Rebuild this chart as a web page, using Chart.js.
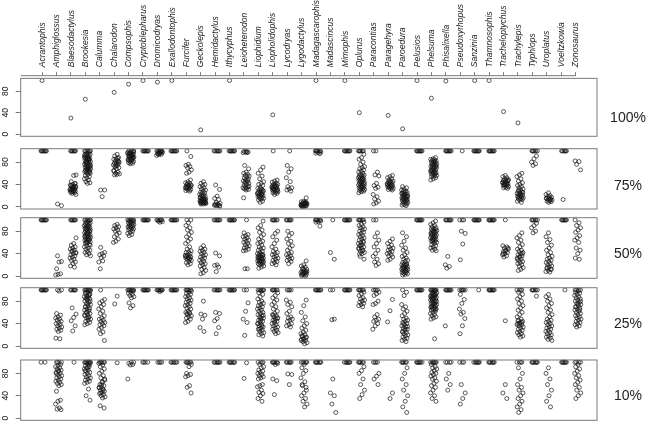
<!DOCTYPE html>
<html><head><meta charset="utf-8">
<script src="https://cdn.jsdelivr.net/npm/chart.js@4/dist/chart.umd.min.js"></script>
<style>
html,body{margin:0;padding:0;background:#fff;}
#wrap{position:relative;width:648px;height:425px;overflow:hidden;background:#fff;}
canvas{position:absolute;left:0;}
.lab{position:absolute;left:598px;width:60px;text-align:center;font-family:"Liberation Sans",Arial,sans-serif;font-size:14px;line-height:16px;color:#222;}
</style></head><body>
<div id="wrap">
<canvas id="c0" width="648" height="141" style="top:0px"></canvas>
<canvas id="c1" width="648" height="70" style="top:144px"></canvas>
<canvas id="c2" width="648" height="70" style="top:213px"></canvas>
<canvas id="c3" width="648" height="70" style="top:283px"></canvas>
<canvas id="c4" width="648" height="70" style="top:355px"></canvas>
<div class="lab" id="l0"></div><div class="lab" id="l1"></div><div class="lab" id="l2"></div><div class="lab" id="l3"></div><div class="lab" id="l4"></div>
</div>
<script>
const categories = ["Acrantophis","Amphiglossus","Blaesodactylus","Brookesia","Calumma","Chalarodon","Compsophis","Cryptoblepharus","Dromicodryas","Exallodontophis","Furcifer","Geckolepis","Hemidactylus","Ithycyphus","Leioheterodon","Liophidium","Liopholidophis","Lycodryas","Lygodactylus","Madagascarophis","Madascincus","Mimophis","Oplurus","Paracontias","Paragehyra","Paroedura","Pelusios","Phelsuma","Phisalixella","Pseudoxyrhopus","Sanzinia","Thamnosophis","Tracheloptychus","Trachylepis","Typhlops","Uroplatus","Voeltzkowia","Zonosaurus"];
const panelLabels = ["100%","75%","50%","25%","10%"];
const yTicks = [0,20,40,60,80,100];
const yTickLabels = [0,40,80];

const pct100 = [[100],[],[30],[65],[],[78],[93],[100],[97],[100],[],[8],[],[100],[],[],[36],[],[],[100],[],[100],[40],[],[35],[10],[100],[67],[99],[],[100],[100],[42],[21],[],[],[],[]];

const pct75 = [
[100,100,100,100,100,100,100,100],
[5,2],
[100,100,100,100,100,100,100,57,56,45,42,40,39,37,36,35,34,33,32,31,30,30,29,28,27,26,25,24,22,35,38,41,33,31,29,27,36,34],
[100,100,100,100,100,100,97,95,94,93,92,91,90,89,88,87,86,85,84,83,82,81,80,79,78,77,76,75,74,73,72,71,70,69,68,67,66,65,64,63,62,61,60,58,56,54,52,50,48,45,43,42,88,85,80,75,70,65,62,90,93,84,78,72,68],
[30,30,18],
[94,91,88,86,85,83,82,80,79,78,77,76,75,74,72,70,68,64,62,60,59,58,57,81,73,65,87],
[100,100,100,99,98,97,96,95,94,93,92,91,90,89,88,87,86,85,84,83,82,81,80,79,78,77,96,93,90,88,86,84,91,95,98,92],
[100,100,100,100,100,100,100,100],
[100,100,100,100,100,100,98,97,96,95,94,93,92,97,95,99,96],
[100,100,100,100,100,100,100,100],
[100,90,76,74,72,70,66,62,60,48,45,43,42,40,39,38,37,36,35,34,33,32,31,30,29,28,41,38,36,34],
[45,42,40,38,36,34,32,30,28,26,25,24,22,21,20,19,18,17,16,15,14,13,12,11,10,10,9,9,8,8,7,7,6,6,5,5,12,14,16,11,9,7,13,10,8],
[100,100,100,100,100,100,100,39,31,19,15,13,8,6,4,3,2,2,3,4,5,1],
[100,100,100,100,100,100,100,100],
[99,99,98,98,97,97,74,68,62,60,58,56,55,54,52,50,48,46,45,44,42,40,38,36,35,34,33,32,31,30,16,47,43,37],
[71,66,60,55,50,45,42,40,38,35,33,31,30,28,27,26,25,24,23,22,21,20,19,18,17,16,15,14,12,10,8,25,22,20,29,32],
[100,48,46,44,42,41,40,39,38,37,36,35,34,33,32,31,30,29,28,27,26,25,24,22,36,34,32,30,38,33],
[100,74,68,62,52,45,36,34,32,30,28],
[16,10,9,8,7,6,6,5,5,4,4,3,3,2,2,1,1,0,5,7,3,8,4,2,6],
[100,100,100,100,100,100,98,97,96,95],
[],
[100,100,100,100,100,100,100,100],
[100,100,100,100,100,100,94,88,85,80,76,72,70,68,66,64,62,60,58,57,56,55,54,53,52,51,50,49,48,47,46,45,44,43,42,41,40,39,38,37,36,35,34,33,32,31,30,29,28,27,25,50,45,40,35],
[100,100,62,57,55,42,38,35,33,22,18,14,10,7,5],
[56,54,52,50,48,46,45,44,43,42,41,40,39,38,37,36,35,34,33,32,31,30,45,40,38,36],
[36,34,32,30,28,27,26,25,24,23,22,21,20,19,18,17,16,15,14,13,12,11,10,9,8,7,6,5,4,3,2,20,18,16,14,12,22,24],
[100,100,100,100,100,100,100,100],
[88,86,85,84,83,82,81,80,79,78,77,76,75,74,73,72,71,70,69,68,67,66,65,64,63,62,61,60,59,58,57,56,55,54,52,50,48,80,76,72,68,64,60],
[100,100,100,100,100,100,100,100],
[100],
[100,100,100,100,100,100,100,100],
[100,100,100,100,100,100,100,100],
[56,54,52,50,49,48,47,46,45,44,43,42,41,40,39,38,37,36,35,34,33,45,43,41,39,47],
[60,57,54,50,46,43,40,38,36,34,32,30,28,26,25,24,23,22,21,20,19,18,17,16,15,14,13,12,10,8,30,26,22,18],
[100,100,100,100,100,100,91,86,80,77,74],
[25,22,20,18,17,16,15,14,13,12,11,10,9,8,15,13],
[100,100,100,100,100,100,13],
[82,81,76,66]
];

const pct50 = [
[100,100,100,100,100,100,100,100],
[36,26,25,13,4,3,2],
[100,100,100,100,100,100,100,68,58,55,52,50,48,46,44,42,40,38,36,34,32,30,28,25,22,18,16,45,41],
[100,100,100,100,100,100,98,96,95,94,93,92,91,90,89,88,87,86,85,84,83,82,81,80,79,78,77,76,75,74,73,72,71,70,69,68,67,66,65,64,63,62,61,60,58,56,54,52,50,48,46,44,42,40,38,36,90,85,80,75,70,65,60,55],
[51,42,40,38,36,33,25,27,13],
[92,90,88,86,84,82,80,77,74,70,66,62,60],
[100,100,100,100,100,100,99,98,97,96,95,94,93,92,91,90,89,88,87,86,85,84,83,82,80,78,76,74,72],
[100,100,100,100,100,100,100,100],
[100,100,100,100,100,100,98,97,96],
[100,100,100,100,100,100,100,100],
[100,100,95,90,86,82,78,74,70,66,62,58,52,48,45,43,42,40,38,37,36,35,34,33,32,31,30,28,26,24,22,20,35,30],
[54,50,48,46,44,42,40,38,36,34,32,30,28,26,24,22,20,18,15,12,10,6,4],
[100,100,100,100,100,100,100,41,36,20,19,16,8],
[100,100,100,100,100,100,100,100],
[100,77,74,72,70,68,66,64,62,60,58,56,54,52,50,48,46,45,13,13],
[98,90,86,82,78,74,70,66,62,60,58,55,52,50,48,46,44,42,40,39,38,37,36,35,34,33,32,31,30,29,28,27,26,25,24,23,22,21,20,18,16,14,38,35,32,30,28,26],
[100,100,100,100,100,100,80,76,70,64,58,52,48,44,42,40,38,36,34,32,30,28,26,24,22,20],
[100,100,100,100,100,100,80,76,72,66,62,58,54,50,46,42,40,38,36,34,32,30,28,26,22],
[27,20,18,16,14,12,10,9,8,7,6,5,4,3,2,1,0,12,8,5,3,6],
[100,100,100,100,100,100,98,97,96,89],
[100,42,30],
[100,100,100,100,100,100,100,100],
[100,100,100,100,100,100,96,92,90,88,86,84,82,80,78,76,74,72,70,68,66,64,62,60,58,56,54,52,50,48,46,44,42,40,39,60,55,50,45,35,30],
[100,100,77,70,64,58,52,46,40,35,30,25,22,19],
[66,62,58,55,52,50,48,46,44,42,40,38,36,34,30,28],
[77,70,62,55,50,46,42,38,35,32,30,28,26,24,22,21,20,19,18,17,16,15,14,13,12,11,10,9,8,7,6,5,4,3,2,20,16,12,10],
[100,100,100,100,100,100,100,100],
[98,95,92,90,88,86,85,84,83,82,81,80,79,78,77,76,75,74,73,72,71,70,69,68,67,66,65,64,63,62,61,60,58,56,54,52,50,48,46,45,80,75,70,65],
[100,100,100,100,100,100,100,35,20,17,14],
[100,100,100,80,76,57,29],
[100,100,100,100,100,100,100,100],
[100,100,100,100,100,100,100,100],
[100,54,52,50,48,46,44,42,40,38,36,34,50,45,40],
[77,72,68,64,60,56,52,48,46,44,42,40,38,36,34,32,30,28,26,24,22,20,18,15,12,10,40,35,30],
[100,100,100,100,100,100,94,90,86,80,77],
[77,70,65,60,55,50,46,42,38,35,32,30,28,26,24,22,20,18,16,14,12,10,8,7,15,12],
[100,100,100,100,100,100,100],
[100,95,90,86,82,78,72,68,64,60,50,46,40,32,30]
];

const pct25 = [
[100,100,100,100,100,100,100,100],
[100,100,98,58,55,52,50,48,46,44,42,40,38,36,34,32,30,28,26,14,13],
[100,100,100,100,100,100,68,57,51,45,36,27],
[100,100,100,100,100,100,100,100,98,96,94,92,90,88,86,85,84,82,80,78,76,74,72,70,68,66,64,62,60,58,56,54,52,50,48,46,44,42,40,38,90,85,80,75,70,65,60,55,50,95,92,88],
[100,83,80,77,74,70,66,62,58,54,50,48,46,44,42,40,38,36,33,30,25,22,10],
[89,75],
[100,100,100,100,100,100,100,100,98,96,94,92,90,88,86,77,72,68],
[100,100,100,100,100,100,100,100],
[100,100,100,100,100,100,100,100,97],
[100,100,100,100,100,100,100,100],
[100,100,100,100,100,100,98,96,94,92,90,88,86,84,82,80,78,76,74,72,70,68,66,62,60,58,56,54,52,50,48,44,42,60,58],
[80,57,55,48,33,26],
[100,100,100,100,100,100,100,60,58,49,45,33,22],
[100,100,100,100,100,100,100,100],
[100,100,77,62,48,42,19],
[100,100,100,100,100,100,98,95,92,88,84,80,78,76,74,72,70,68,66,64,62,60,58,56,54,52,50,48,46,44,42,40,38,36,34,32,30,28,26,24,22,20,18,45,40,35,30,55,50],
[100,100,100,100,100,100,95,90,86,82,78,74,70,66,62,58,56,54,52,50,48,46,44,42,40,38,36,34,32,30,28,26,24,22,55,50,45],
[100,100,100,100,82,78,74,70,62,58,52,50,48,46,44,40,38,36,34],
[82,72,60,52,45,40,36,32,28,25,22,20,18,16,14,12,10,8,6,4,18,15,12,10],
[100,100,100,100,100,100,100,100],
[100,100,48,47],
[100,100,100,100,100,100,100,100],
[100,100,100,100,100,100,96,93,90,86,84,82,80,78,76,74,72,70],
[100,100,100,100,96,93,90,80,76,74,56,52,48,46,44,40,36,30],
[83,63,43],
[100,96,90,74,70,66,62,58,54,50,48,46,44,42,40,38,36,34,32,30,28,26,24,22,20,18,16,14,12,10,8,40,35,30,25],
[100,100,100,100,100,100,100,100],
[100,100,100,100,100,100,100,100,98,96,95,94,93,92,91,90,89,88,87,86,85,84,83,82,81,80,79,78,77,76,75,74,73,72,71,70,69,68,67,66,65,64,62,60,58,56,54,52,50,48,90,85,80,75,70,65,92,88,13],
[100,100,100,100,100,100,100,100,36],
[100,100,100,100,100,100,92,83,76,66,60,57,49,36,22],
[100],
[100,100,100,100,100,100,100,100],
[45],
[100,100,100,100,96,92,88,84,80,76,72,68,64,60,56,52,48,46,44,42,40,38,36,34,32,30,28,26,24,22,20,18,16,45,42,40,38],
[100,100,100,100,100,100,89],
[92,88,84,80,76,72,68,64,60,56,52,48,46,44,42,40,38,36,34,32,30,28,26,24,22,20,18,16,14,12,10],
[100],
[100,100,100,100,98,96,94,92,90,88,86,84,82,80,78,76,74,72,70,68,66,64,62,60,58,56,54,52,50,48,46,44,42,40,38,36,34,80,75,70,65]
];

const pct10 = [
[100,100],
[100,100,100,100,96,94,92,90,88,86,84,82,80,78,76,74,72,70,68,66,64,62,60,58,48,32,30,25,18,16,15,85,80],
[100],
[100,100,100,100,100,100,100,100,98,96,94,92,90,88,86,84,82,80,78,76,74,72,70,68,66,64,62,52,40,32,90,85,95],
[100,100,100,100,100,100,98,95,92,88,84,80,76,72,68,64,60,58,56,54,52,50,48,46,44,42,40,38,36,22,18,60,55,50,45,70,65],
[99],
[100,100,98,96,95,70],
[100,100,100,100],
[100,100,100,100],
[100,100,100,100,100,100],
[100,100,100,100,100,100,96,92,80,78,76,74,58,55,45],
[],
[100,100,100,100,100,100,100],
[100,100,100,100,100,100,100],
[99,71],
[100,100,100,100,96,92,90,86,84,82,80,78,76,74,72,70,60,58,56,50,46,44,40,35,30],
[100,100,100,100,100,100,98,96,70,67,42],
[100,100,100,100,100,100,79,78,60],
[100,100,100,100,100,100,96,90,85,80,72,65,58,50,45,40,35,30,25,20,60,55],
[100,100,100,100,100,100,100],
[70,45,40,25,10],
[100,100,100,100,100,100,100],
[100,100,100,100,100,100,92,85,80,70,60,50,42,35],
[100,100,100,100,80,75,70,60],
[45,35],
[100,100,100,100,100,100,90,80,70,60,50,40,30,20,10],
[100,100,100,100,100,100,100],
[100,100,100,100,100,100,100,96,92,90,88,85,82,80,78,75,72,70,66,62,58,55,50,45,40,35,30],
[100,100,100,100,80,70,60,50],
[100,100,100,60,45,35,25],
[100,100,100,100,100,100,100],
[100,100,100,100,100,100,100],
[60,45,35],
[100,100,100,100,90,80,70,60,55,50,45,40,35,30,25,20,15,10],
[100,100,100,100,100,100,100],
[90,80,70,60,50,40,30,20],
[100,100,100,100,100,100,100],
[100,100,100,100,96,92,88,84,80,76,72,68,64,60,55,50,45,40,35]
];

const panelData = [pct100, pct75, pct50, pct25, pct10];

// layout (pixels) — kept separate from data
const panelCfg = [
  {canvas:'c0', top:0,   h:141, padTop:0,   padBottom:1.5, ymax:109, topAxis:true,  labelY:109},
  {canvas:'c1', top:144, h:70,  padTop:4.5, padBottom:5,   ymax:104, topAxis:false, labelY:177},
  {canvas:'c2', top:213, h:70,  padTop:4.5, padBottom:4,   ymax:104, topAxis:false, labelY:245},
  {canvas:'c3', top:283, h:70,  padTop:4.5, padBottom:4,   ymax:104, topAxis:false, labelY:315},
  {canvas:'c4', top:355, h:70,  padTop:5,   padBottom:4,   ymax:104, topAxis:false, labelY:387}
];

function jitterOffset(k, cat) {
  const u = ((k + cat * 7) * 0.6180339887) % 1;
  return 0.15 + 0.44 * (u - 0.5);
}

const boxPlugin = {
  id: 'boxPlugin',
  afterDatasetsDraw(chart, args, opts) {
    const {ctx, chartArea, scales} = chart;
    const yT = scales.y.getPixelForValue(104), yB = scales.y.getPixelForValue(-4);
    ctx.save();
    ctx.strokeStyle = '#7a7a7a';
    ctx.lineWidth = 1;
    ctx.strokeRect(chartArea.left, yT, chartArea.right - chartArea.left, yB - yT);
    if (opts.topAxis) {
      ctx.beginPath();
      ctx.moveTo(chartArea.left, chartArea.top);
      ctx.lineTo(scales.x.getPixelForValue(categories.length), chartArea.top);
      ctx.stroke();
    }
    ctx.restore();
  }
};

panelCfg.forEach((cfg, p) => {
  const pts = [];
  panelData[p].forEach((vals, ci) => {
    vals.forEach((v, k) => {
      const dx = p === 0 ? 0 : jitterOffset(k, ci);
      pts.push({x: ci + 1 + dx, y: v});
    });
  });
  const lab = document.getElementById('l' + p);
  lab.textContent = panelLabels[p];
  lab.style.top = (cfg.labelY) + 'px';

  new Chart(document.getElementById(cfg.canvas), {
    type: 'scatter',
    data: { datasets: [{
      data: pts, showLine: false, clip: false,
      pointStyle: 'circle', pointRadius: 2, pointBorderWidth: 0.7,
      pointBorderColor: '#151515', pointBackgroundColor: 'rgba(0,0,0,0)'
    }]},
    options: {
      responsive: false, animation: false, events: [],
      layout: { padding: { top: cfg.padTop, bottom: cfg.padBottom, left: 0, right: 51 } },
      plugins: { legend: {display: false}, tooltip: {enabled: false}, boxPlugin: {topAxis: cfg.topAxis} },
      scales: {
        x: {
          type: 'linear', position: 'top', min: -0.48, max: 39.48,
          display: cfg.topAxis,
          afterFit: s => { if (cfg.topAxis) { s.height = 75.7; } s.paddingLeft = 0; s.paddingRight = 0; },
          afterBuildTicks: s => { s.ticks = categories.map((c, i) => ({value: i + 1})); },
          border: {display: false},
          grid: {drawOnChartArea: false, drawTicks: true, tickLength: 3.5, color: '#7a7a7a'},
          ticks: {
            autoSkip: false, minRotation: 90, maxRotation: 90, padding: 5, labelOffset: 10.5,
            color: '#1a1a1a',
            font: {family: '"Liberation Sans", Arial, sans-serif', style: 'italic', size: 8.5},
            callback: v => categories[v - 1]
          }
        },
        y: {
          type: 'linear', min: -4, max: cfg.ymax,
          afterFit: s => { s.width = 20.7; s.paddingTop = 0; s.paddingBottom = 0; },
          afterBuildTicks: s => { s.ticks = yTicks.map(v => ({value: v})); },
          border: {display: false},
          grid: {drawOnChartArea: false, drawTicks: true, tickLength: 5, color: '#7a7a7a'},
          ticks: {
            minRotation: 90, maxRotation: 90, crossAlign: 'center', padding: 5,
            color: '#1a1a1a',
            font: {family: '"Liberation Sans", Arial, sans-serif', size: 8.5},
            callback: v => yTickLabels.includes(v) ? String(v) : ''
          }
        }
      }
    },
    plugins: [boxPlugin]
  });
});
</script>
</body></html>
